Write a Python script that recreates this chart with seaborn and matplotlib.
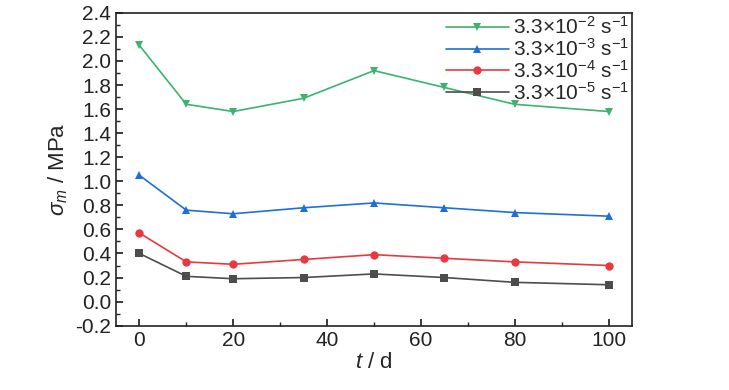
import numpy as np
import pandas as pd
import seaborn as sns
import matplotlib.pyplot as plt
from matplotlib.ticker import MultipleLocator

# Data
days = [0, 10, 20, 35, 50, 65, 80, 100]
s_1e2 = [2.13, 1.64, 1.58, 1.69, 1.92, 1.78, 1.64, 1.58]
s_1e3 = [1.05, 0.76, 0.73, 0.78, 0.82, 0.78, 0.74, 0.71]
s_1e4 = [0.57, 0.33, 0.31, 0.35, 0.39, 0.36, 0.33, 0.30]
s_1e5 = [0.40, 0.21, 0.19, 0.20, 0.23, 0.20, 0.16, 0.14]

rates = [r"3.3×10$^{-2}$ s$^{-1}$", r"3.3×10$^{-3}$ s$^{-1}$",
         r"3.3×10$^{-4}$ s$^{-1}$", r"3.3×10$^{-5}$ s$^{-1}$"]
colors = ["#3cb371", "#1f6fd8", "#e8393f", "#4d4d4d"]
markers = ["v", "^", "o", "s"]

df = pd.DataFrame({
    "t": days * 4,
    "sigma": s_1e2 + s_1e3 + s_1e4 + s_1e5,
    "rate": np.repeat(rates, len(days)),
})

sns.set_theme(style="ticks")
plt.rcParams["font.family"] = ["Liberation Sans Narrow", "Liberation Sans", "DejaVu Sans"]
plt.rcParams["mathtext.fontset"] = "custom"
plt.rcParams["mathtext.rm"] = "Liberation Sans"
plt.rcParams["mathtext.it"] = "Liberation Sans:italic"

fig, ax = plt.subplots(figsize=(7.29, 3.9), dpi=100)

sns.lineplot(
    data=df, x="t", y="sigma", hue="rate", style="rate",
    hue_order=rates, style_order=rates,
    palette=colors, markers=markers, dashes=False,
    markersize=6, markeredgewidth=0, linewidth=1.2, ax=ax,
)

ax.set_xlim(-5, 105)
ax.set_ylim(-0.2, 2.4)
ax.xaxis.set_major_locator(MultipleLocator(20))
ax.xaxis.set_minor_locator(MultipleLocator(10))
ax.yaxis.set_major_locator(MultipleLocator(0.2))
ax.yaxis.set_minor_locator(MultipleLocator(0.1))
ax.yaxis.set_major_formatter(plt.FuncFormatter(lambda v, p: f"{v:.1f}".replace("-0.0", "0.0")))
ax.tick_params(which="both", direction="in", top=False, right=False, labelsize=15, colors="#222222")
ax.tick_params(which="major", length=5)
ax.tick_params(which="minor", length=3)

for spine in ax.spines.values():
    spine.set_visible(True)
    spine.set_color("#222222")
    spine.set_linewidth(1.2)

ax.set_xlabel(r"$t$ / d", fontsize=16, labelpad=2)
ax.set_ylabel(r"$\sigma_m$ / MPa", fontsize=16, labelpad=4)

ax.legend(loc="upper right", frameon=False, fontsize=15, handlelength=3.0,
          handletextpad=0.2, labelspacing=0.0, borderaxespad=0.05,
          borderpad=0.1, title=None)

fig.subplots_adjust(left=0.159, right=0.867, top=0.967, bottom=0.165)
fig.savefig("out.png", dpi=100)
